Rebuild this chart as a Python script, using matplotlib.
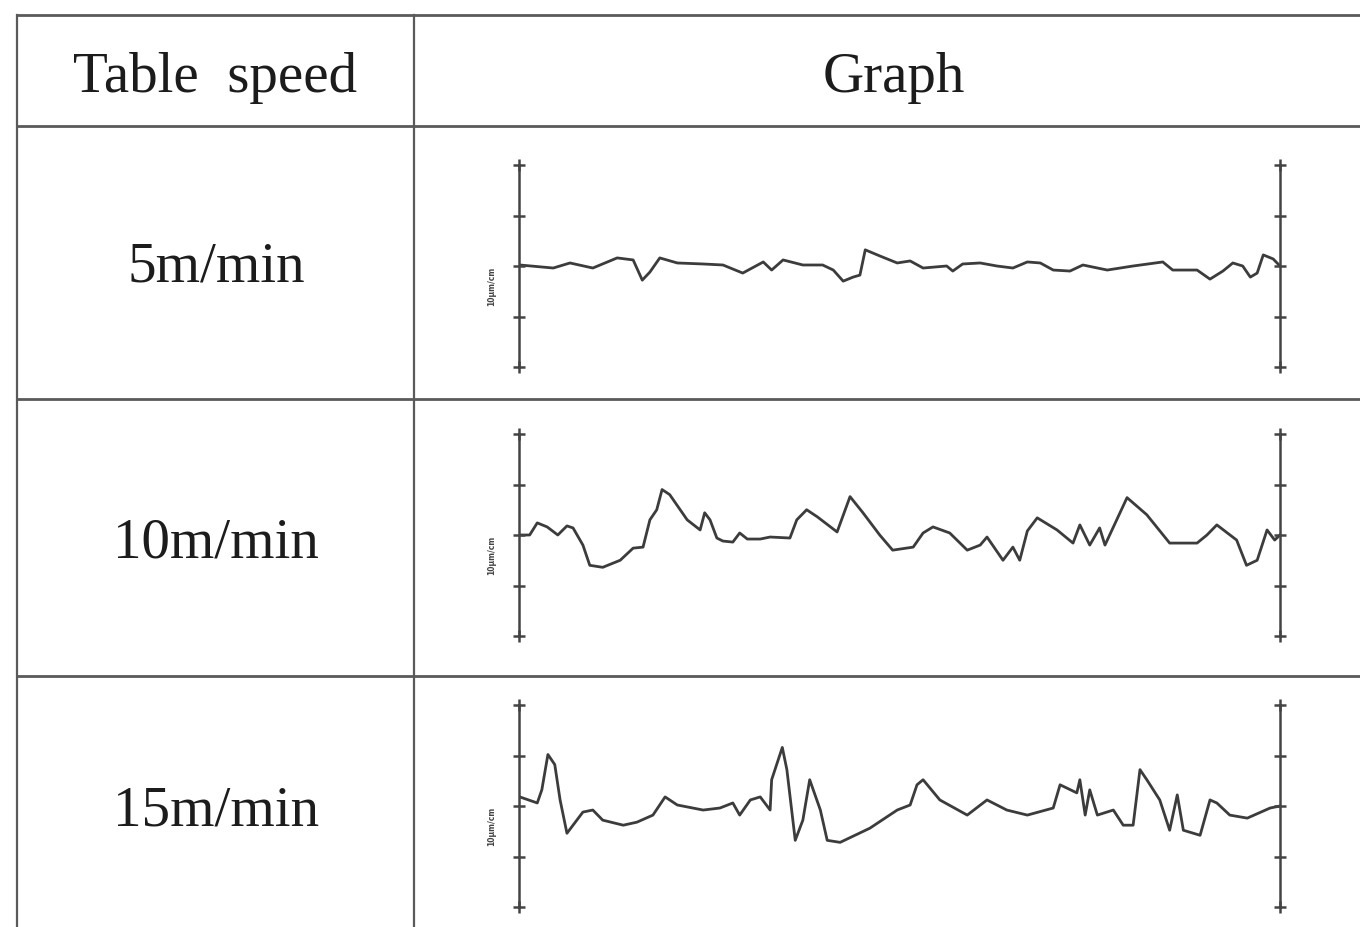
import matplotlib
matplotlib.use("Agg")
import matplotlib.pyplot as plt
from matplotlib.lines import Line2D

# ---------------- data ----------------
speeds = ["5m/min", "10m/min", "15m/min"]
header = ["Table  speed", "Graph"]
scale_label = "10μm/cm"

x_5 = [0.1, 4.5, 6.7, 9.7, 12.9, 15.0, 16.2, 17.2, 18.5, 20.8, 24.2, 26.8, 29.4, 32.1, 33.2, 34.7,
       37.3, 39.9, 41.3, 42.6, 43.9, 44.8, 45.5, 47.4, 49.7, 51.4, 53.1, 56.2, 57.0, 58.3, 60.6,
       62.8, 64.9, 66.8, 68.5, 70.2, 72.4, 74.1, 77.3, 80.7, 84.6, 85.9, 89.1, 90.8, 92.5, 93.8,
       95.1, 96.1, 97.0, 97.8, 99.1, 100.0]
y_5 = [0.02, -0.04, 0.06, -0.04, 0.16, 0.12, -0.28, -0.12, 0.16, 0.06, 0.04, 0.02, -0.14, 0.08,
       -0.08, 0.12, 0.02, 0.02, -0.08, -0.30, -0.22, -0.18, 0.32, 0.20, 0.06, 0.10, -0.04, 0.00,
       -0.10, 0.04, 0.06, 0.00, -0.04, 0.08, 0.06, -0.08, -0.10, 0.02, -0.08, 0.00, 0.08, -0.08,
       -0.08, -0.26, -0.10, 0.06, 0.00, -0.22, -0.14, 0.22, 0.14, 0.00]

x_10 = [0.1, 1.4, 2.4, 3.7, 5.1, 6.3, 7.1, 8.4, 9.3, 11.0, 13.3, 15.0, 16.3, 17.2, 18.1, 18.8,
        19.8, 22.1, 23.8, 24.4, 25.1, 26.0, 26.8, 28.1, 29.0, 30.0, 31.7, 33.0, 35.6, 36.5, 37.8,
        39.2, 41.8, 43.5, 45.2, 47.4, 49.1, 51.8, 53.1, 54.4, 56.6, 58.9, 60.6, 61.5, 63.6, 64.9,
        65.8, 66.8, 68.1, 70.7, 72.8, 73.7, 75.0, 76.3, 77.0, 79.9, 82.5, 85.5, 89.1, 90.4, 91.7,
        94.3, 95.6, 97.0, 98.3, 99.3, 100.0]
y_10 = [0.0, 0.0, 0.24, 0.16, 0.0, 0.18, 0.14, -0.20, -0.60, -0.64, -0.50, -0.26, -0.24, 0.30,
        0.50, 0.90, 0.80, 0.30, 0.10, 0.44, 0.30, -0.06, -0.12, -0.14, 0.04, -0.08, -0.08, -0.04,
        -0.06, 0.30, 0.50, 0.36, 0.06, 0.76, 0.44, 0.0, -0.30, -0.24, 0.04, 0.16, 0.04, -0.30,
        -0.20, -0.04, -0.50, -0.24, -0.50, 0.08, 0.34, 0.10, -0.16, 0.20, -0.20, 0.14, -0.20, 0.74,
        0.40, -0.16, -0.16, 0.0, 0.20, -0.10, -0.60, -0.50, 0.10, -0.10, 0.0]

x_15 = [0.1, 2.4, 3.0, 3.8, 4.7, 5.4, 6.3, 8.4, 9.7, 11.0, 13.7, 15.5, 17.6, 19.2, 20.8, 24.2,
        26.4, 28.1, 29.0, 30.4, 31.7, 33.0, 33.2, 34.6, 35.2, 36.3, 37.3, 38.2, 39.6, 40.5, 42.2,
        46.1, 49.7, 51.4, 52.3, 53.1, 55.3, 58.9, 61.5, 64.1, 66.8, 70.2, 71.1, 73.3, 73.7, 74.4,
        75.0, 76.0, 78.1, 79.4, 80.7, 81.6, 82.5, 84.2, 85.5, 86.5, 87.3, 89.5, 90.8, 91.7, 93.4,
        95.7, 98.7, 100.0]
y_15 = [0.18, 0.06, 0.32, 1.02, 0.82, 0.12, -0.54, -0.12, -0.08, -0.28, -0.38, -0.32, -0.18, 0.18,
        0.02, -0.08, -0.04, 0.06, -0.18, 0.12, 0.18, -0.08, 0.52, 1.16, 0.72, -0.68, -0.28, 0.52,
        -0.08, -0.68, -0.72, -0.44, -0.08, 0.02, 0.42, 0.52, 0.12, -0.18, 0.12, -0.08, -0.18, -0.04,
        0.42, 0.26, 0.52, -0.18, 0.32, -0.18, -0.08, -0.38, -0.38, 0.72, 0.52, 0.12, -0.48, 0.22,
        -0.48, -0.58, 0.12, 0.06, -0.18, -0.24, -0.04, 0.0]

traces = [(x_5, y_5), (x_10, y_10), (x_15, y_15)]

# ---------------- layout (pixels) ----------------
W, H = 1360, 927
fig = plt.figure(figsize=(W / 100, H / 100), dpi=100)
fig.patch.set_facecolor("white")

def fx(px):
    return px / W

def fy(py):
    return 1 - py / H

line_col = "#5a5a5a"
text_col = "#1c1c1c"
serif = ["Liberation Serif", "DejaVu Serif"]

# table grid
h_lines = [15, 126, 399, 676]
for yy in h_lines:
    fig.add_artist(Line2D([fx(17), fx(1360)], [fy(yy), fy(yy)], color=line_col, lw=2.0))
for xx in [17, 414]:
    fig.add_artist(Line2D([fx(xx), fx(xx)], [fy(15), fy(927)], color=line_col, lw=1.6))

# header texts
fig.text(fx(215), fy(78), header[0], family=serif, fontsize=41, ha="center", va="center",
         color=text_col)
fig.text(fx(894), fy(78), header[1], family=serif, fontsize=41, ha="center", va="center",
         color=text_col)

row_centres = [266, 535, 806]
label_y = [268, 543, 811]
for lab, ly in zip(speeds, label_y):
    fig.text(fx(216), fy(ly), lab, family=serif, fontsize=41, ha="center", va="center",
             color=text_col)

# graphs
x_left, x_right = 519, 1280
half = 101
for (xs, ys), cy in zip(traces, row_centres):
    ax = fig.add_axes([fx(x_left), fy(cy + half), (x_right - x_left) / W, 2 * half / H])
    ax.set_xlim(0, 100)
    ax.set_ylim(-2, 2)
    ax.axis("off")
    ax.plot(xs, ys, color="#3c3c3c", lw=2.0, solid_joinstyle="round")
    for xa in (0, 100):
        ax.plot([xa, xa], [-2, 2], color="#444444", lw=1.8, clip_on=False)
        ax.plot([xa] * 3, [-1, 0, 1], ls="none", marker="_", ms=9, mew=1.8,
                color="#444444", clip_on=False)
        ax.plot([xa] * 2, [-2, 2], ls="none", marker="+", ms=8, mew=1.8,
                color="#444444", clip_on=False)
    fig.text(fx(492), fy(cy + 20), scale_label, fontsize=5.5, rotation=90,
             ha="center", va="center", color="#444444", fontweight="bold")

fig.savefig("out.png", dpi=100, facecolor="white")
